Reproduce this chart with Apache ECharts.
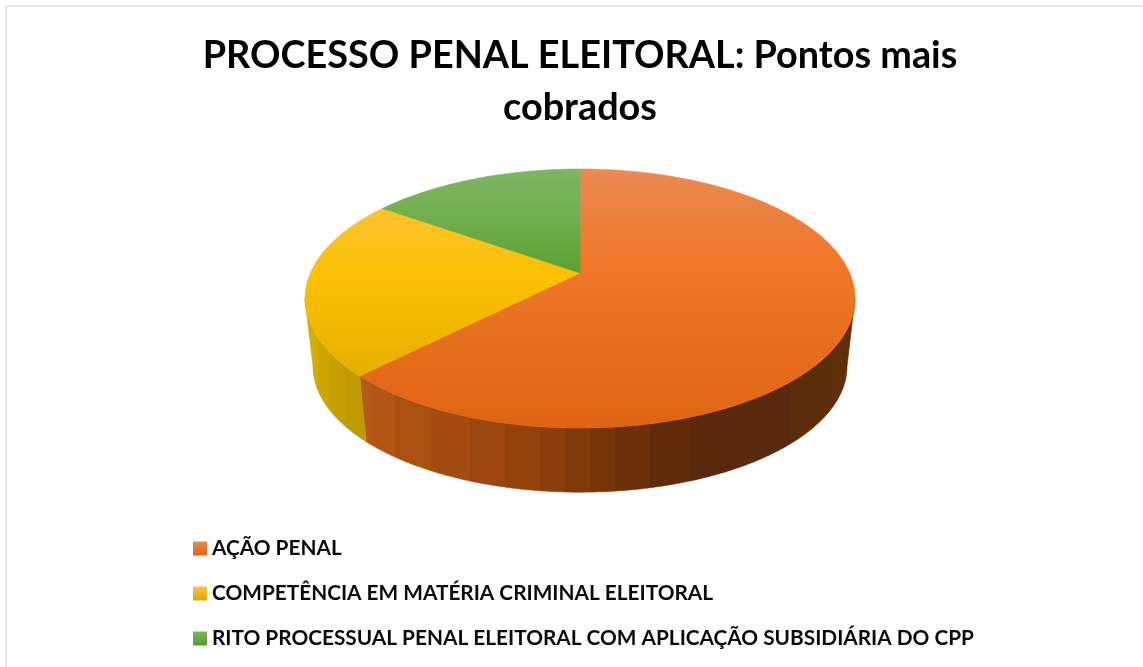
<!DOCTYPE html>
<html lang="pt-BR">
<head>
<meta charset="utf-8">
<title>Processo Penal Eleitoral</title>
<style>
  html, body { margin: 0; padding: 0; background: #fff; }
  #chart { width: 1143px; height: 667px; }
</style>
<script src="https://cdn.jsdelivr.net/npm/echarts@6/dist/echarts.min.js"></script>
</head>
<body>
<div id="chart"></div>
<script>
const titleText = 'PROCESSO PENAL ELEITORAL: Pontos mais\ncobrados';
const categories = [
  'AÇÃO PENAL',
  'COMPETÊNCIA EM MATÉRIA CRIMINAL ELEITORAL',
  'RITO PROCESSUAL PENAL ELEITORAL COM APLICAÇÃO SUBSIDIÁRIA DO CPP'
];
const values = [62.4, 22.4, 15.2];

const stops = list => list.map(s => ({ offset: s[0], color: s[1] }));

// Perspective projection of the unit disc onto the page.
const disc = { cx: 580, K: 269.6, a: 70.7, b: 273, c: -0.197 };
const wall = { scale: 0.971, vanishY: 2640 };
const faceBox = { left: 304, right: 855, top: 169, bottom: 428 };
// The wall is seen between the two widest points of the projected disc.
const sideAngle = Math.acos(disc.c) * 180 / Math.PI;
const wallSweep = [sideAngle, 360 - sideAngle];

// Faceted wall shading: each band is [right edge on the page, colour].
function bands(list) {
  const span = faceBox.right - faceBox.left;
  const out = [];
  let prev = 0;
  list.forEach(b => {
    const end = Math.min(1, (b[0] - faceBox.left) / span);
    out.push({ offset: prev, color: b[1] }, { offset: end, color: b[1] });
    prev = end;
  });
  return out;
}

// Top-face gradients, darkening towards the viewer.
const topStops = [
  stops([[0, '#ea8a52'], [0.35, '#f0782a'], [1, '#df6412']]),
  stops([[0, '#fdc54a'], [0.42, '#fbc000'], [0.8, '#e6af00'], [1, '#dca800']]),
  stops([[0, '#7fb563'], [0.2, '#6fae4c'], [0.42, '#5a9f2f'], [1, '#559a2a']])
];
const wallStops = [
  bands([[372, '#b65a17'], [395, '#b15614'], [430, '#aa5011'], [470, '#a34b10'],
         [505, '#9b460e'], [540, '#93420c'], [565, '#8a3e0a'], [590, '#803a09'],
         [615, '#763408'], [650, '#6b2f09'], [690, '#612b0a'], [790, '#5a280c'],
         [825, '#5a2c0a'], [855, '#5c2f0a']]),
  bands([[318, '#d6ac00'], [330, '#cea500'], [345, '#c6a000'], [855, '#bf9a00']]),
  bands([[855, '#4a7a28']])
];

function projectTop(deg) {
  const t = deg * Math.PI / 180;
  const x = Math.sin(t), y = -Math.cos(t);
  const d = 1 + disc.c * y;
  return [disc.cx + disc.K * x / d, (disc.a * y + disc.b) / d];
}
function projectBottom(deg) {
  const p = projectTop(deg);
  return [
    disc.cx + wall.scale * (p[0] - disc.cx),
    wall.vanishY + wall.scale * (p[1] - wall.vanishY)
  ];
}
function arc(project, from, to) {
  const n = Math.max(2, Math.ceil(Math.abs(to - from) * 2));
  const pts = [];
  for (let i = 0; i <= n; i++) pts.push(project(from + (to - from) * i / n));
  return pts;
}

const total = values.reduce((s, v) => s + v, 0);
const startAngles = values.map((_, i) =>
  values.slice(0, i).reduce((s, v) => s + v, 0) / total * 360);

function renderSlice(index) {
  return function (params, api) {
    const from = startAngles[index];
    const to = from + api.value(0) / total * 360;
    const children = [];

    const wFrom = Math.max(from, wallSweep[0]);
    const wTo = Math.min(to, wallSweep[1]);
    if (wTo > wFrom) {
      const fill = new echarts.graphic.LinearGradient(
        faceBox.left, 0, faceBox.right, 0, wallStops[index], true);
      children.push({
        type: 'polygon',
        shape: { points: arc(projectTop, wFrom, wTo).concat(arc(projectBottom, wTo, wFrom)) },
        style: { fill: fill, stroke: fill, lineWidth: 0.6 }
      });
    }

    const fill = new echarts.graphic.LinearGradient(
      0, faceBox.top, 0, faceBox.bottom, topStops[index], true);
    children.push({
      type: 'polygon',
      shape: { points: [[disc.cx, disc.b]].concat(arc(projectTop, from, to)) },
      style: { fill: fill, stroke: fill, lineWidth: 0.6 }
    });
    return { type: 'group', children: children };
  };
}

const chart = echarts.init(document.getElementById('chart'));
chart.setOption({
  animation: false,
  backgroundColor: '#ffffff',
  title: {
    text: titleText,
    left: 575,
    top: 25,
    textAlign: 'center',
    textStyle: {
      fontFamily: 'Lato',
      fontWeight: 'bold',
      fontSize: 37.8,
      lineHeight: 52,
      color: '#000000'
    }
  },
  legend: {
    orient: 'vertical',
    left: 193,
    top: 538,
    height: 200,
    padding: 0,
    itemWidth: 14,
    itemHeight: 14,
    itemGap: 24,
    selectedMode: false,
    icon: 'rect',
    textStyle: {
      fontFamily: 'Lato',
      fontWeight: 'bold',
      fontSize: 20.8,
      color: '#0a0a0a'
    },
    data: categories.map((name, i) => ({
      name: name,
      itemStyle: {
        color: new echarts.graphic.LinearGradient(0, 0, 0, 1,
          [topStops[i][0], topStops[i][topStops[i].length - 1]])
      }
    }))
  },
  graphic: [
    { type: 'rect', shape: { x: 5, y: 5, width: 1138, height: 2 }, style: { fill: '#e3e6f0' } },
    { type: 'rect', shape: { x: 5, y: 5, width: 2, height: 662 }, style: { fill: '#e3e6f0' } }
  ],
  series: categories.map((name, i) => ({
    type: 'custom',
    name: name,
    coordinateSystem: 'none',
    renderItem: renderSlice(i),
    data: [[values[i]]]
  }))
});
</script>
</body>
</html>
